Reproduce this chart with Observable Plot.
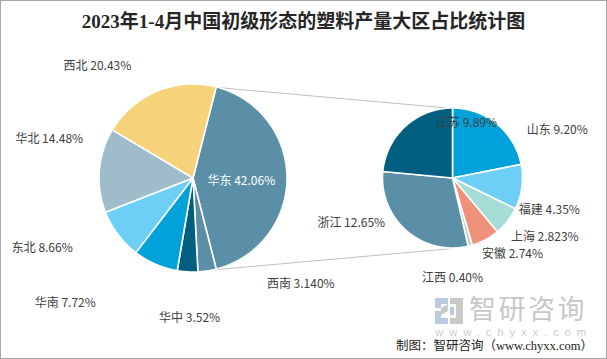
<!DOCTYPE html>
<html><head><meta charset="utf-8">
<script src="https://cdn.jsdelivr.net/npm/d3@7"></script>
<script src="https://cdn.jsdelivr.net/npm/@observablehq/plot@0.6"></script>
<style>
html,body{margin:0;padding:0;background:#fff;}
#wrap{position:relative;width:607px;height:359px;overflow:hidden;font-family:"Noto Sans CJK SC",sans-serif;background:#fff;}
#chart{position:absolute;left:0;top:0;}
#frame{position:absolute;left:0;top:0;width:605px;height:357px;border:1px solid #a6a6a6;pointer-events:none;}
#title{position:absolute;left:0;top:10px;width:607px;text-align:center;font-family:"Liberation Serif","Noto Sans CJK SC",serif;font-weight:bold;font-size:19px;line-height:24px;color:#262626;white-space:nowrap;}
#logo{position:absolute;left:435px;top:298px;}
#wmtext{position:absolute;left:469px;top:295px;font-family:"Liberation Sans","Noto Sans CJK SC",sans-serif;font-size:27px;line-height:30px;color:#c8c8c8;letter-spacing:2.5px;white-space:nowrap;}
#wmurl{position:absolute;left:435px;top:325.5px;font-family:"Liberation Sans",sans-serif;font-size:11.5px;line-height:13px;color:#cdcdcd;letter-spacing:5.8px;white-space:nowrap;}
#caption{position:absolute;right:14px;top:338.5px;font-family:"Liberation Serif","Noto Sans CJK SC",serif;font-size:12.5px;line-height:14px;color:#222;white-space:nowrap;}
</style>
</head><body>
<div id="wrap">
  <div id="chart"></div>
  <div id="title">2023年1-4月中国初级形态的塑料产量大区占比统计图</div>
  <svg id="logo" width="28" height="26" viewBox="0 0 28 26">
    <path d="M0 0H13V6H6V10H0Z" fill="#b9c9de"/>
    <path d="M0 13H6V20H13V26H0Z" fill="#b9c9de"/>
    <path d="M6 10L13 6V13L6 17Z" fill="#c9c9c9"/>
    <path d="M15 0H28V26H15V20H21V6H15Z" fill="#c9c9c9"/>
    <path d="M15 9H19V17H15Z" fill="#b9c9de"/>
  </svg>
  <div id="wmtext">智研咨询</div>
  <div id="wmurl">www.chyxx.com</div>
  <div id="caption">制图：智研咨询（www.chyxx.com）</div>
  <div id="frame"></div>
</div>
<script>
// ---- data ----
const regions = ["华东", "西南", "华中", "华南", "东北", "华北", "西北"];
const regionShares = [42.06, 3.140, 3.52, 7.72, 8.66, 14.48, 20.43];
const regionLabels = ["42.06%", "3.140%", "3.52%", "7.72%", "8.66%", "14.48%", "20.43%"];

const provinces = ["山东", "福建", "上海", "安徽", "江西", "浙江", "江苏"];
const provinceShares = [9.20, 4.35, 2.823, 2.74, 0.40, 12.65, 9.89];
const provinceLabels = ["9.20%", "4.35%", "2.823%", "2.74%", "0.40%", "12.65%", "9.89%"];

// ---- styles / layout ----
const regionColors = ["#5b8fa8", "#5b8fa8", "#005f80", "#00a2d9", "#6dcff6", "#9fbccb", "#f6d37b"];
const provinceColors = ["#00a2d9", "#6dcff6", "#a6dcd6", "#f0917a", "#b8cbd6", "#5b8fa8", "#005f80"];
// label placement: angle (deg, clockwise from top) and distance in pie radii
const regionLabelAngle = [93.6, 134.5, 181.6, 225.9, 245.4, 285.2, 319.4];
const regionLabelDist = [0.51, 1.60, 1.49, 1.90, 1.77, 1.59, 1.57];
const provinceLabelAngle = [65.3, 108.3, 122.8, 142.0, 180.3, 246.1, 13.8];
const provinceLabelDist = [1.64, 1.45, 1.56, 1.38, 1.43, 1.59, 0.81];

const W = 607, H = 359, U = 94;
const leftPie = {cx: 0, cy: 0, r: 1};
const rightPie = {cx: 259.5 / U, cy: 0, r: 70 / U};

function sectors(pie, values, names, colors, start) {
  const arcs = d3.pie().sort(null).startAngle(start).endAngle(start + 2 * Math.PI)(values);
  const pts = [];
  arcs.forEach((a, i) => {
    const n = Math.max(2, Math.ceil((a.endAngle - a.startAngle) / (Math.PI / 360)));
    for (let k = 0; k <= n; k++) {
      const t = a.startAngle + (a.endAngle - a.startAngle) * k / n;
      pts.push({key: names[i], color: colors[i], cx: pie.cx, cy: pie.cy,
        x: pie.cx + pie.r * Math.sin(t), y: pie.cy - pie.r * Math.cos(t)});
    }
  });
  return {arcs, pts};
}

const total = d3.sum(regionShares);
const eastFrac = regionShares[0] / total;
const leftStart = Math.PI / 2 - Math.PI * eastFrac;
const L = sectors(leftPie, regionShares, regions, regionColors, leftStart);
const R = sectors(rightPie, provinceShares, provinces, provinceColors, 0);

function labelsFor(pie, names, labels, ang, dist, isInsideWhite) {
  return names.map((n, i) => {
    const t = ang[i] * Math.PI / 180;
    return {text: n + " " + labels[i],
      x: pie.cx + pie.r * dist[i] * Math.sin(t),
      y: pie.cy - pie.r * dist[i] * Math.cos(t),
      fill: isInsideWhite(i) ? "#ffffff" : "#404040"};
  });
}
const labels = [
  ...labelsFor(leftPie, regions, regionLabels, regionLabelAngle, regionLabelDist, i => i === 0),
  ...labelsFor(rightPie, provinces, provinceLabels, provinceLabelAngle, provinceLabelDist, () => false)
];

const eastArc = L.arcs[0];
const connectors = [
  {x1: leftPie.cx + leftPie.r * Math.sin(eastArc.startAngle), y1: leftPie.cy - leftPie.r * Math.cos(eastArc.startAngle),
   x2: rightPie.cx, y2: rightPie.cy - rightPie.r},
  {x1: leftPie.cx + leftPie.r * Math.sin(eastArc.endAngle), y1: leftPie.cy - leftPie.r * Math.cos(eastArc.endAngle),
   x2: rightPie.cx, y2: rightPie.cy + rightPie.r}
];

const chart = Plot.plot({
  width: W, height: H,
  marginLeft: 0, marginRight: 0, marginTop: 0, marginBottom: 0,
  x: {domain: [-193 / U, (W - 193) / U], range: [0, W], axis: null},
  y: {domain: [-178 / U, (H - 178) / U], range: [0, H], axis: null},
  color: {type: "identity"},
  style: {fontFamily: "'Noto Sans CJK SC', sans-serif", background: "transparent"},
  marks: [
    Plot.link(connectors, {x1: "x1", y1: "y1", x2: "x2", y2: "y2", stroke: "#bfbfbf", strokeWidth: 1}),
    Plot.area(L.pts, {x1: "cx", y1: "cy", x2: "x", y2: "y", z: "key", fill: "color", stroke: "white", strokeWidth: 1.6, strokeLinejoin: "round"}),
    Plot.area(R.pts, {x1: "cx", y1: "cy", x2: "x", y2: "y", z: "key", fill: "color", stroke: "white", strokeWidth: 1.6, strokeLinejoin: "round"}),
    Plot.text(labels, {x: "x", y: "y", text: "text", fill: "fill", fontSize: 12})
  ]
});
document.getElementById("chart").appendChild(chart);
</script>
</body></html>
